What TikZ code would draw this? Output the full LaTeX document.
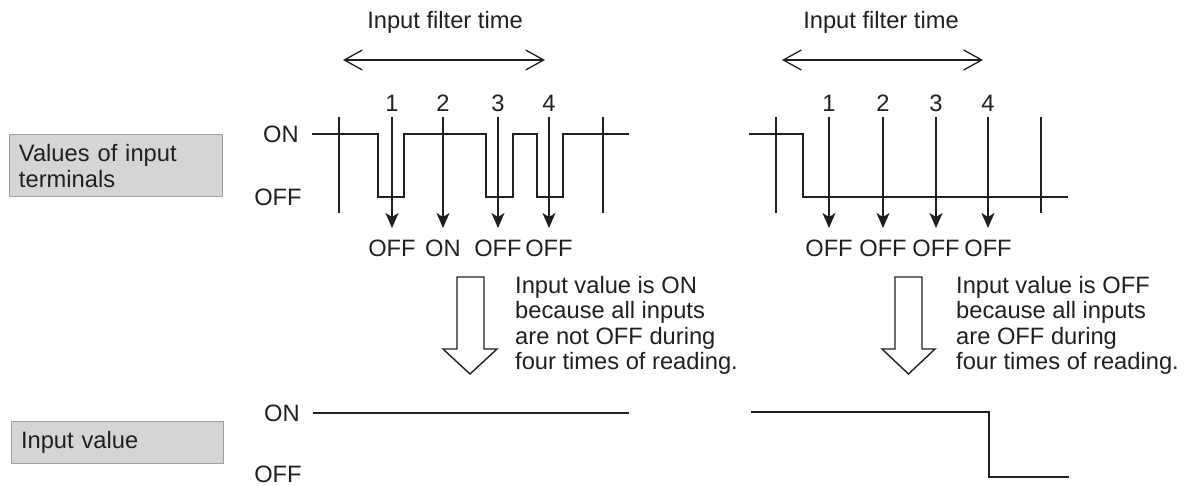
\documentclass[tikz,border=0pt]{standalone}
\usepackage{fontspec}
\setmainfont{Liberation Sans}
\usetikzlibrary{arrows.meta}
\definecolor{boxfill}{RGB}{212,213,215}
\definecolor{boxline}{RGB}{160,160,160}
\definecolor{ink}{RGB}{35,31,32}
\tikzset{
  lbl/.style={font=\fontsize{23.7}{25.5}\selectfont, text=ink, inner sep=0pt},
  para/.style={lbl, align=left, anchor=north west},
  graybox/.style={draw=boxline, line width=1pt, fill=boxfill, lbl, align=left, inner xsep=10pt, anchor=center},
  thin/.style={draw=ink, line width=1.3pt},
  wave/.style={draw=ink, line width=2.2pt, line join=miter},
  readarrow/.style={thin, -{Stealth[length=15pt,width=13pt,inset=4pt]}},
  spanarrow/.style={thin, {Straight Barb[length=18pt,width=20pt]}-{Straight Barb[length=18pt,width=20pt]}},
  blockarrow/.style={draw=ink, line width=1.4pt, fill=white, line join=miter}
}
\begin{document}
\begin{tikzpicture}[x=1pt,y=-1pt]
\useasboundingbox (0,0) rectangle (1195,486);

% left boxes
\node[graybox, minimum width=213pt, minimum height=62pt, text width=193pt] (vbox) at (115.5,166) {Values of input\\terminals};
\node[graybox, minimum width=212pt, minimum height=41pt, text width=192pt] (ibox) at (117,442.5) {Input value};

% level labels
\node[lbl] (on1) at (281,134) {ON};
\node[lbl] (off1) at (278,197) {OFF};
\node[lbl] (on2) at (282,413) {ON};
\node[lbl] (off2) at (278,474) {OFF};

% filter time labels and arrows
\node[lbl] (ft1) at (445,22) {Input filter time};
\node[lbl] (ft2) at (881,22) {Input filter time};
\coordinate (fa1) at (343,60); \coordinate (fb1) at (545,60);
\coordinate (fa2) at (782,60); \coordinate (fb2) at (983,60);
\draw[spanarrow] (fa1) -- (fb1);
\draw[spanarrow] (fa2) -- (fb2);

% left panel: reading numbers, arrows, results
\foreach \i/\x/\r in {1/392/OFF,2/443/ON,3/498/OFF,4/549/OFF}{
  \node[lbl] (ln\i) at (\x,103) {\i};
  \coordinate (la\i) at (\x,117);
  \coordinate (lb\i) at (\x,228);
  \node[lbl] (lr\i) at (\x,248) {\r};
}
\foreach \i/\x in {1/829,2/883,3/936,4/988}{
  \node[lbl] (rn\i) at (\x,103) {\i};
  \coordinate (ra\i) at (\x,117);
  \coordinate (rb\i) at (\x,228);
  \node[lbl] (rr\i) at (\x,248) {OFF};
}

% tick lines
\draw[thin] (339,117) -- (339,213);
\draw[thin] (603,117) -- (603,213);
\draw[thin] (776,117) -- (776,213);
\draw[thin] (1041,117) -- (1041,213);

% waveforms
\draw[wave] (312,134) -- (378,134) -- (378,197) -- (404,197) -- (404,134) -- (486,134) -- (486,197) -- (513,197) -- (513,134) -- (537,134) -- (537,197) -- (563,197) -- (563,134) -- (629,134);
\draw[wave] (749,134) -- (803,134) -- (803,197) -- (1068,197);

% reading arrows (drawn over waveform)
\foreach \i in {1,2,3,4}{
  \draw[readarrow] (la\i) -- (lb\i);
  \draw[readarrow] (ra\i) -- (rb\i);
}

% block arrows
\draw[blockarrow] (457,277) -- (484,277) -- (484,349) -- (497,349) -- (470,374) -- (443,349) -- (457,349) -- cycle;
\draw[blockarrow] (895,277) -- (922,277) -- (922,349) -- (935,349) -- (908.5,374) -- (882,349) -- (895,349) -- cycle;

% explanations
\node[para] (t1) at (515,276) {Input value is ON\\because all inputs\\are not OFF during\\four times of reading.};
\node[para] (t2) at (956,276) {Input value is OFF\\because all inputs\\are OFF during\\four times of reading.};

% output
\draw[wave, line width=1.8pt] (313,413) -- (629,413);
\draw[wave, line width=1.8pt] (751,412) -- (989,412) -- (989,477) -- (1069,477);
\end{tikzpicture}
\end{document}
